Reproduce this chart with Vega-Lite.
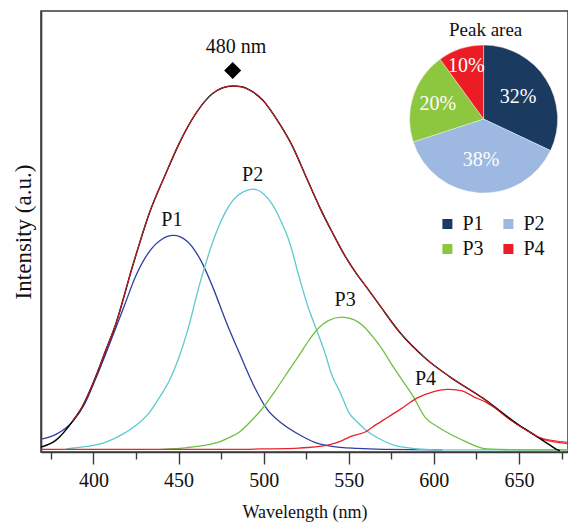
{
  "$schema": "https://vega.github.io/schema/vega-lite/v6.json",
  "width": 527,
  "height": 441,
  "autosize": {"type": "none"},
  "padding": {"left": 41, "top": 11, "right": 0, "bottom": 71},
  "config": {
    "font": "Liberation Serif",
    "view": {"stroke": "#3a3a3a", "strokeWidth": 1.5},
    "axis": {"grid": false, "domainColor": "#3a3a3a", "domainWidth": 1.6, "tickColor": "#3a3a3a", "tickWidth": 1.4, "labelFont": "Liberation Serif", "titleFont": "Liberation Serif", "labelColor": "#111", "titleColor": "#111", "titleFontWeight": "normal"},
    "legend": {"labelFont": "Liberation Serif", "labelFontSize": 20, "labelColor": "#111", "symbolType": "square", "symbolSize": 100, "symbolStrokeWidth": 0, "columns": 2, "columnPadding": 14, "rowPadding": 5, "labelOffset": 5, "padding": 0}
  },
  "datasets": {
    "curves": [
      {"s": "measured", "wl": 369.2, "I": 0.011}, {"s": "measured", "wl": 378, "I": 0.027}, {"s": "measured", "wl": 387.6, "I": 0.069}, {"s": "measured", "wl": 393.5, "I": 0.103}, {"s": "measured", "wl": 401.4, "I": 0.171}, {"s": "measured", "wl": 407.3, "I": 0.231}, {"s": "measured", "wl": 413.2, "I": 0.291}, {"s": "measured", "wl": 422.9, "I": 0.42}, {"s": "measured", "wl": 432.8, "I": 0.541}, {"s": "measured", "wl": 442.6, "I": 0.632}, {"s": "measured", "wl": 450.4, "I": 0.7}, {"s": "measured", "wl": 460.2, "I": 0.768}, {"s": "measured", "wl": 470, "I": 0.813}, {"s": "measured", "wl": 476, "I": 0.826}, {"s": "measured", "wl": 481.8, "I": 0.83}, {"s": "measured", "wl": 487, "I": 0.828}, {"s": "measured", "wl": 491.6, "I": 0.821}, {"s": "measured", "wl": 499.4, "I": 0.798}, {"s": "measured", "wl": 509.2, "I": 0.745}, {"s": "measured", "wl": 517.1, "I": 0.692}, {"s": "measured", "wl": 524.9, "I": 0.624}, {"s": "measured", "wl": 532.8, "I": 0.556}, {"s": "measured", "wl": 540.6, "I": 0.496}, {"s": "measured", "wl": 548.5, "I": 0.44}, {"s": "measured", "wl": 554.4, "I": 0.405}, {"s": "measured", "wl": 560.2, "I": 0.375}, {"s": "measured", "wl": 568.1, "I": 0.333}, {"s": "measured", "wl": 579.8, "I": 0.272}, {"s": "measured", "wl": 595.5, "I": 0.211}, {"s": "measured", "wl": 609.2, "I": 0.171}, {"s": "measured", "wl": 628.8, "I": 0.122}, {"s": "measured", "wl": 648.5, "I": 0.065}, {"s": "measured", "wl": 662.2, "I": 0.031}, {"s": "measured", "wl": 668, "I": 0.016}, {"s": "measured", "wl": 672, "I": 0.006}, {"s": "measured", "wl": 674, "I": 0.003},
      {"s": "fit", "wl": 387.6, "I": 0.069}, {"s": "fit", "wl": 393.5, "I": 0.103}, {"s": "fit", "wl": 401.4, "I": 0.171}, {"s": "fit", "wl": 407.3, "I": 0.231}, {"s": "fit", "wl": 413.2, "I": 0.291}, {"s": "fit", "wl": 422.9, "I": 0.42}, {"s": "fit", "wl": 432.8, "I": 0.541}, {"s": "fit", "wl": 442.6, "I": 0.632}, {"s": "fit", "wl": 450.4, "I": 0.7}, {"s": "fit", "wl": 460.2, "I": 0.768}, {"s": "fit", "wl": 470, "I": 0.813}, {"s": "fit", "wl": 476, "I": 0.826}, {"s": "fit", "wl": 481.8, "I": 0.83}, {"s": "fit", "wl": 487, "I": 0.828}, {"s": "fit", "wl": 491.6, "I": 0.821}, {"s": "fit", "wl": 499.4, "I": 0.798}, {"s": "fit", "wl": 509.2, "I": 0.745}, {"s": "fit", "wl": 517.1, "I": 0.692}, {"s": "fit", "wl": 524.9, "I": 0.624}, {"s": "fit", "wl": 532.8, "I": 0.556}, {"s": "fit", "wl": 540.6, "I": 0.496}, {"s": "fit", "wl": 548.5, "I": 0.44}, {"s": "fit", "wl": 554.4, "I": 0.405}, {"s": "fit", "wl": 560.2, "I": 0.375}, {"s": "fit", "wl": 568.1, "I": 0.333}, {"s": "fit", "wl": 579.8, "I": 0.272}, {"s": "fit", "wl": 595.5, "I": 0.211}, {"s": "fit", "wl": 609.2, "I": 0.171}, {"s": "fit", "wl": 628.8, "I": 0.122}, {"s": "fit", "wl": 648.5, "I": 0.063}, {"s": "fit", "wl": 655, "I": 0.048}, {"s": "fit", "wl": 662.2, "I": 0.033}, {"s": "fit", "wl": 670, "I": 0.026}, {"s": "fit", "wl": 678.8, "I": 0.022},
      {"s": "P1", "wl": 369.2, "I": 0.029}, {"s": "P1", "wl": 378, "I": 0.04}, {"s": "P1", "wl": 388, "I": 0.07}, {"s": "P1", "wl": 395, "I": 0.11}, {"s": "P1", "wl": 401, "I": 0.163}, {"s": "P1", "wl": 410, "I": 0.25}, {"s": "P1", "wl": 418, "I": 0.33}, {"s": "P1", "wl": 425, "I": 0.4}, {"s": "P1", "wl": 432, "I": 0.45}, {"s": "P1", "wl": 440, "I": 0.482}, {"s": "P1", "wl": 447, "I": 0.491}, {"s": "P1", "wl": 455, "I": 0.478}, {"s": "P1", "wl": 463, "I": 0.435}, {"s": "P1", "wl": 470, "I": 0.375}, {"s": "P1", "wl": 478, "I": 0.295}, {"s": "P1", "wl": 486, "I": 0.222}, {"s": "P1", "wl": 494, "I": 0.152}, {"s": "P1", "wl": 502, "I": 0.097}, {"s": "P1", "wl": 511, "I": 0.064}, {"s": "P1", "wl": 521, "I": 0.039}, {"s": "P1", "wl": 530, "I": 0.022}, {"s": "P1", "wl": 540, "I": 0.013}, {"s": "P1", "wl": 555, "I": 0.008}, {"s": "P1", "wl": 570, "I": 0.006}, {"s": "P1", "wl": 605, "I": 0.005},
      {"s": "P2", "wl": 384, "I": 0.007}, {"s": "P2", "wl": 395, "I": 0.012}, {"s": "P2", "wl": 407, "I": 0.022}, {"s": "P2", "wl": 417, "I": 0.04}, {"s": "P2", "wl": 427, "I": 0.067}, {"s": "P2", "wl": 433, "I": 0.09}, {"s": "P2", "wl": 439, "I": 0.125}, {"s": "P2", "wl": 445, "I": 0.165}, {"s": "P2", "wl": 450, "I": 0.212}, {"s": "P2", "wl": 456, "I": 0.285}, {"s": "P2", "wl": 462, "I": 0.375}, {"s": "P2", "wl": 467, "I": 0.44}, {"s": "P2", "wl": 472, "I": 0.496}, {"s": "P2", "wl": 477, "I": 0.54}, {"s": "P2", "wl": 482, "I": 0.571}, {"s": "P2", "wl": 488, "I": 0.59}, {"s": "P2", "wl": 494, "I": 0.596}, {"s": "P2", "wl": 500, "I": 0.585}, {"s": "P2", "wl": 505, "I": 0.562}, {"s": "P2", "wl": 510, "I": 0.525}, {"s": "P2", "wl": 515, "I": 0.478}, {"s": "P2", "wl": 521, "I": 0.395}, {"s": "P2", "wl": 526, "I": 0.33}, {"s": "P2", "wl": 531, "I": 0.278}, {"s": "P2", "wl": 536, "I": 0.225}, {"s": "P2", "wl": 540, "I": 0.175}, {"s": "P2", "wl": 545, "I": 0.135}, {"s": "P2", "wl": 550, "I": 0.09}, {"s": "P2", "wl": 555, "I": 0.068}, {"s": "P2", "wl": 560, "I": 0.05}, {"s": "P2", "wl": 568, "I": 0.03}, {"s": "P2", "wl": 580, "I": 0.012}, {"s": "P2", "wl": 600, "I": 0.005}, {"s": "P2", "wl": 640, "I": 0.005}, {"s": "P2", "wl": 678.8, "I": 0.005},
      {"s": "P3", "wl": 440, "I": 0.006}, {"s": "P3", "wl": 455, "I": 0.01}, {"s": "P3", "wl": 465, "I": 0.015}, {"s": "P3", "wl": 474, "I": 0.023}, {"s": "P3", "wl": 480, "I": 0.033}, {"s": "P3", "wl": 486, "I": 0.046}, {"s": "P3", "wl": 493, "I": 0.072}, {"s": "P3", "wl": 500, "I": 0.102}, {"s": "P3", "wl": 507, "I": 0.14}, {"s": "P3", "wl": 515, "I": 0.186}, {"s": "P3", "wl": 521, "I": 0.22}, {"s": "P3", "wl": 526, "I": 0.25}, {"s": "P3", "wl": 532, "I": 0.28}, {"s": "P3", "wl": 538, "I": 0.298}, {"s": "P3", "wl": 546, "I": 0.306}, {"s": "P3", "wl": 553, "I": 0.3}, {"s": "P3", "wl": 559, "I": 0.284}, {"s": "P3", "wl": 564, "I": 0.262}, {"s": "P3", "wl": 570, "I": 0.231}, {"s": "P3", "wl": 575, "I": 0.2}, {"s": "P3", "wl": 580, "I": 0.171}, {"s": "P3", "wl": 588, "I": 0.125}, {"s": "P3", "wl": 595, "I": 0.078}, {"s": "P3", "wl": 602, "I": 0.058}, {"s": "P3", "wl": 609, "I": 0.042}, {"s": "P3", "wl": 619, "I": 0.023}, {"s": "P3", "wl": 625, "I": 0.013}, {"s": "P3", "wl": 631, "I": 0.007}, {"s": "P3", "wl": 650, "I": 0.005}, {"s": "P3", "wl": 678.8, "I": 0.005},
      {"s": "P4", "wl": 369.2, "I": 0.006}, {"s": "P4", "wl": 420, "I": 0.006}, {"s": "P4", "wl": 480, "I": 0.006}, {"s": "P4", "wl": 500, "I": 0.007}, {"s": "P4", "wl": 521, "I": 0.009}, {"s": "P4", "wl": 537, "I": 0.015}, {"s": "P4", "wl": 545, "I": 0.024}, {"s": "P4", "wl": 551, "I": 0.035}, {"s": "P4", "wl": 560, "I": 0.046}, {"s": "P4", "wl": 566, "I": 0.062}, {"s": "P4", "wl": 571, "I": 0.074}, {"s": "P4", "wl": 580, "I": 0.096}, {"s": "P4", "wl": 590, "I": 0.122}, {"s": "P4", "wl": 600, "I": 0.137}, {"s": "P4", "wl": 608, "I": 0.142}, {"s": "P4", "wl": 616, "I": 0.139}, {"s": "P4", "wl": 624, "I": 0.124}, {"s": "P4", "wl": 631, "I": 0.112}, {"s": "P4", "wl": 637, "I": 0.097}, {"s": "P4", "wl": 643, "I": 0.078}, {"s": "P4", "wl": 650, "I": 0.06}, {"s": "P4", "wl": 656, "I": 0.046}, {"s": "P4", "wl": 662, "I": 0.032}, {"s": "P4", "wl": 668, "I": 0.025}, {"s": "P4", "wl": 678.8, "I": 0.019}
    ],
    "notes": [
      {"t": "P1", "wl": 446.1, "I": 0.526},
      {"t": "P2", "wl": 493.5, "I": 0.628},
      {"t": "P3", "wl": 547.9, "I": 0.345},
      {"t": "P4", "wl": 595.1, "I": 0.165},
      {"t": "480 nm", "wl": 483.8, "I": 0.919}
    ],
    "title": [{"t": "Peak area", "wl": 630.4, "I": 0.958}],
    "peak": [{"wl": 481.8, "I": 0.865}],
    "pie": [
      {"peak": "P1", "pct": 32, "label": "32%"},
      {"peak": "P2", "pct": 38, "label": "38%"},
      {"peak": "P3", "pct": 20, "label": "20%"},
      {"peak": "P4", "pct": 10, "label": "10%"}
    ]
  },
  "layer": [
    {
      "data": {"name": "curves"},
      "transform": [{"filter": "datum.s !== 'measured' && datum.s !== 'fit'"}],
      "mark": {"type": "line", "interpolate": "monotone", "strokeWidth": 1.3},
      "encoding": {
        "x": {"field": "wl", "type": "quantitative", "scale": {"domain": [369.2, 678.8], "nice": false, "zero": false},
          "axis": {"title": "Wavelength (nm)", "titleFontSize": 18, "titlePadding": 13, "labelFontSize": 20, "labelPadding": 6,
            "values": [375, 400, 425, 450, 475, 500, 525, 550, 575, 600, 625, 650, 675],
            "labelExpr": "datum.value % 50 === 0 ? datum.label : ''",
            "tickSize": {"condition": {"test": "datum.value % 50 === 0", "value": 12}, "value": 7}}},
        "y": {"field": "I", "type": "quantitative", "scale": {"domain": [0, 1], "nice": false},
          "axis": {"title": "Intensity (a.u.)", "titleFontSize": 23, "ticks": false, "labels": false, "titlePadding": 6}},
        "stroke": {"field": "s", "type": "nominal", "scale": {"range": ["#2f3f9e", "#5ec9d3", "#6fbf45", "#e8232b"]}, "legend": null}
      }
    },
    {
      "data": {"name": "curves"},
      "transform": [{"filter": "datum.s === 'measured'"}],
      "mark": {"type": "line", "interpolate": "monotone", "strokeWidth": 1.5, "color": "#000000"},
      "encoding": {
        "x": {"field": "wl", "type": "quantitative"},
        "y": {"field": "I", "type": "quantitative"}
      }
    },
    {
      "data": {"name": "curves"},
      "transform": [{"filter": "datum.s === 'fit'"}],
      "mark": {"type": "line", "interpolate": "monotone", "strokeWidth": 1.0, "color": "#e31e24"},
      "encoding": {
        "x": {"field": "wl", "type": "quantitative"},
        "y": {"field": "I", "type": "quantitative"}
      }
    },
    {
      "data": {"name": "peak"},
      "mark": {"type": "point", "shape": "diamond", "filled": true, "size": 290, "color": "#000000", "opacity": 1},
      "encoding": {
        "x": {"field": "wl", "type": "quantitative"},
        "y": {"field": "I", "type": "quantitative"}
      }
    },
    {
      "data": {"name": "notes"},
      "mark": {"type": "text", "fontSize": 20, "color": "#111", "baseline": "middle", "align": "center"},
      "encoding": {
        "x": {"field": "wl", "type": "quantitative"},
        "y": {"field": "I", "type": "quantitative"},
        "text": {"field": "t"}
      }
    },
    {
      "data": {"name": "title"},
      "mark": {"type": "text", "fontSize": 19, "color": "#111", "baseline": "middle", "align": "center"},
      "encoding": {
        "x": {"field": "wl", "type": "quantitative"},
        "y": {"field": "I", "type": "quantitative"},
        "text": {"field": "t"}
      }
    },
    {
      "data": {"name": "pie"},
      "mark": {"type": "arc", "outerRadius": 74, "stroke": "#ffffff", "strokeWidth": 0.4, "x": {"expr": "scale('x', 629.2)"}, "y": {"expr": "scale('y', 0.755)"}},
      "encoding": {
        "theta": {"field": "pct", "type": "quantitative", "stack": true},
        "fill": {"field": "peak", "type": "nominal", "scale": {"domain": ["P1", "P2", "P3", "P4"], "range": ["#1b3a5f", "#9db9e2", "#8dc63f", "#ec1c24"]},
          "legend": {"title": null, "orient": "none", "legendX": 396.4, "legendY": 203, "direction": "horizontal", "columns": 2}}
      }
    },
    {
      "data": {"name": "pie"},
      "mark": {"type": "text", "fontSize": 20, "color": "#ffffff", "baseline": "middle", "align": "center",
        "x": {"expr": "scale('x', 629.2)"}, "y": {"expr": "scale('y', 0.755)"},
        "radius": {"expr": "datum.peak === 'P4' ? 56 : datum.peak === 'P3' ? 48 : 41"}},
      "encoding": {
        "theta": {"field": "pct", "type": "quantitative", "stack": true},
        "text": {"field": "label"},
        "order": {"field": "peak"}
      }
    }
  ]
}
